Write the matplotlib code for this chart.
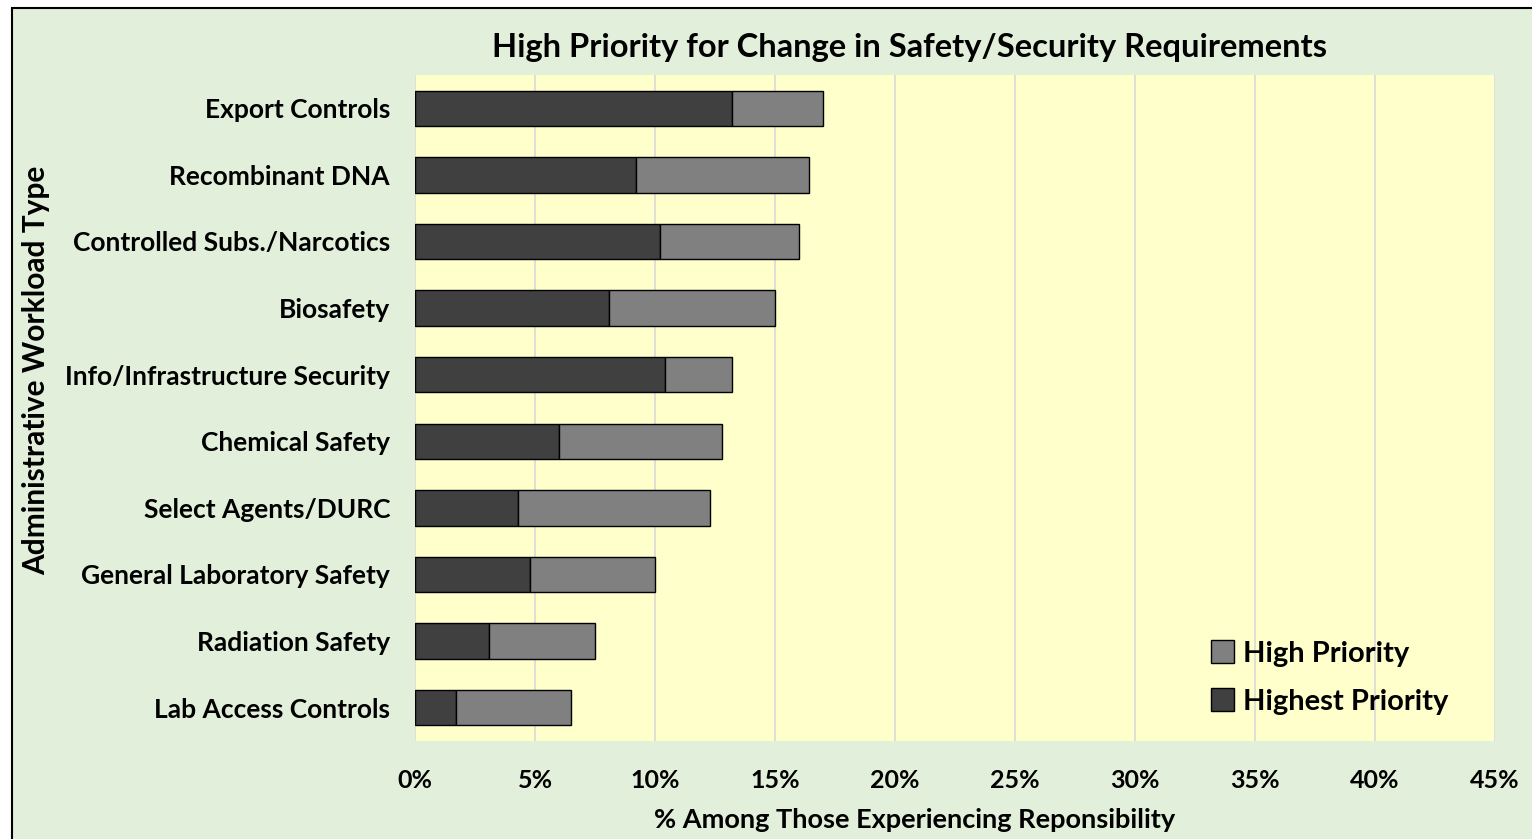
import matplotlib
matplotlib.use('Agg')
import matplotlib.pyplot as plt
from matplotlib.patches import Rectangle
import numpy as np

# data, top to bottom as in the chart
categories = ['Export Controls', 'Recombinant DNA', 'Controlled Subs./Narcotics',
              'Biosafety', 'Info/Infrastructure Security', 'Chemical Safety',
              'Select Agents/DURC', 'General Laboratory Safety', 'Radiation Safety',
              'Lab Access Controls']
highest_priority = [13.2, 9.2, 10.2, 8.1, 10.4, 6.0, 4.3, 4.8, 3.1, 1.7]
high_priority = [3.8, 7.2, 5.8, 6.9, 2.8, 6.8, 8.0, 5.2, 4.4, 4.8]
xticks = [0, 5, 10, 15, 20, 25, 30, 35, 40, 45]

plt.rcParams['font.family'] = ['Lato', 'DejaVu Sans']
plt.rcParams['font.weight'] = 'bold'

fig = plt.figure(figsize=(15.32, 8.39), dpi=100)
fig.patch.set_facecolor('white')
# outer chart frame
fig.patches.append(Rectangle((12 / 1532, -0.02), 1.1, 1 - 8 / 839 + 0.02,
                             transform=fig.transFigure, facecolor='#E2EFDA',
                             edgecolor='black', linewidth=1.5, zorder=-10))

ax = fig.add_axes([415 / 1532, 98 / 839, 1080 / 1532, 666 / 839])
ax.set_facecolor('#FFFFCC')

y = np.arange(len(categories))
ax.barh(y, highest_priority, height=0.53, color='#404040', edgecolor='black',
        linewidth=1, label='Highest Priority', zorder=3)
ax.barh(y, high_priority, left=highest_priority, height=0.53, color='#808080',
        edgecolor='black', linewidth=1, label='High Priority', zorder=3)

ax.set_xlim(0, 45)
ax.set_ylim(len(categories) - 0.5, -0.5)
ax.set_xticks(xticks)
ax.set_xticklabels([f'{t}%' for t in xticks], fontsize=18, fontweight='bold')
ax.set_yticks(y)
ax.set_yticklabels(categories, fontsize=19, fontweight='bold')
ax.tick_params(axis='both', length=0)
ax.tick_params(axis='x', pad=20)
ax.tick_params(axis='y', pad=18)
ax.grid(axis='x', color='#D9D9D9', linewidth=1.2, zorder=0)
ax.set_axisbelow(True)
for s in ax.spines.values():
    s.set_visible(False)

fig.text(909 / 1532, 1 - 47 / 839,
         'High Priority for Change in Safety/Security Requirements',
         ha='center', va='center', fontsize=23.5, fontweight='bold')
fig.text(915 / 1532, 1 - 820 / 839, '% Among Those Experiencing Reponsibility',
         ha='center', va='center', fontsize=19.5, fontweight='bold')
fig.text(36 / 1532, 1 - 370 / 839, 'Administrative Workload Type', rotation=90,
         ha='center', va='center', fontsize=21.5, fontweight='bold')

handles, labels = ax.get_legend_handles_labels()
ax.legend(handles[::-1], labels[::-1], loc='lower right', bbox_to_anchor=(0.981, 0.0),
          frameon=False, prop={'weight': 'bold', 'size': 21},
          handlelength=0.8, handleheight=0.8, handletextpad=0.3, labelspacing=0.75)

fig.savefig('out.png', dpi=100)
